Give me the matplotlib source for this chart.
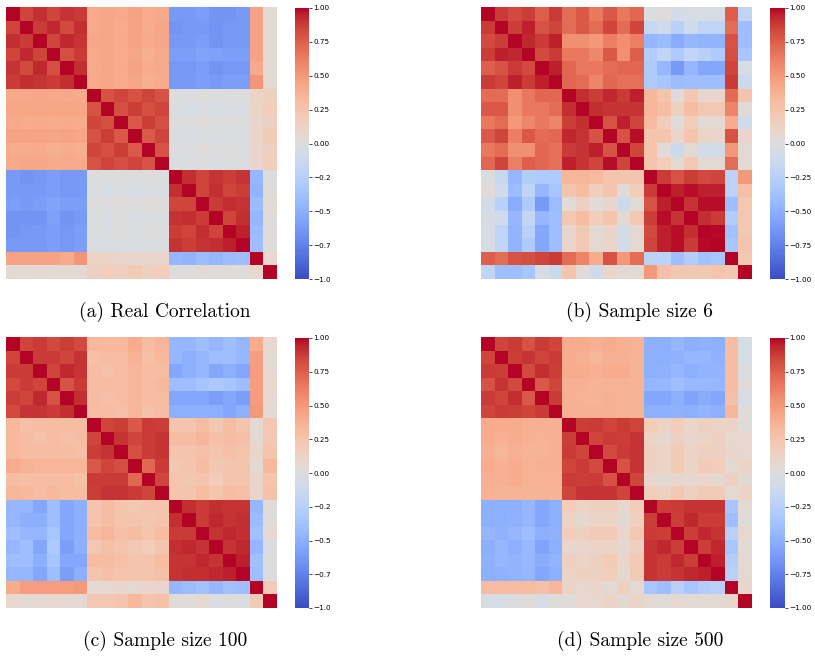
import numpy as np
import matplotlib
matplotlib.use('Agg')
import matplotlib.pyplot as plt
import matplotlib.transforms as mtransforms
import seaborn as sns

# upper triangle of each correlation matrix, row i holds columns i+1..19
real_rows = [
    [0.85, 0.92, 0.85, 0.90, 0.88, 0.42, 0.43, 0.42, 0.45, 0.40, 0.42, -0.62, -0.62, -0.60, -0.65, -0.65, -0.62, 0.45, 0.05],
    [0.88, 0.93, 0.83, 0.92, 0.42, 0.43, 0.40, 0.45, 0.40, 0.43, -0.65, -0.63, -0.62, -0.65, -0.63, -0.63, 0.45, 0.05],
    [0.85, 0.93, 0.90, 0.43, 0.44, 0.41, 0.45, 0.41, 0.43, -0.63, -0.62, -0.60, -0.65, -0.62, -0.63, 0.45, 0.06],
    [0.82, 0.88, 0.42, 0.43, 0.40, 0.44, 0.39, 0.42, -0.60, -0.60, -0.57, -0.58, -0.60, -0.60, 0.45, 0.05],
    [0.92, 0.42, 0.44, 0.41, 0.45, 0.40, 0.42, -0.63, -0.63, -0.60, -0.65, -0.63, -0.63, 0.42, 0.05],
    [0.42, 0.43, 0.40, 0.44, 0.39, 0.41, -0.62, -0.62, -0.60, -0.62, -0.60, -0.60, 0.52, 0.05],
    [0.80, 0.85, 0.80, 0.85, 0.80, 0.00, -0.02, 0.01, -0.01, 0.00, -0.02, 0.12, 0.15],
    [0.82, 0.87, 0.82, 0.85, -0.02, -0.05, -0.02, -0.04, -0.02, -0.04, 0.12, 0.18],
    [0.78, 0.87, 0.82, 0.00, -0.01, 0.02, 0.00, 0.01, -0.01, 0.10, 0.15],
    [0.77, 0.85, -0.02, -0.04, -0.01, -0.03, -0.02, -0.03, 0.10, 0.20],
    [0.80, 0.00, -0.02, 0.02, -0.01, 0.00, -0.01, 0.10, 0.15],
    [-0.01, -0.03, 0.00, -0.02, -0.01, -0.02, 0.10, 0.18],
    [0.92, 0.85, 0.90, 0.87, 0.90, -0.45, 0.00],
    [0.85, 0.92, 0.85, 0.87, -0.47, 0.02],
    [0.88, 0.92, 0.90, -0.42, 0.05],
    [0.85, 0.92, -0.45, 0.02],
    [0.95, -0.42, 0.03],
    [-0.40, 0.02],
    [0.08],
]

n6_rows = [
    [0.88, 0.83, 0.87, 0.75, 0.88, 0.70, 0.78, 0.65, 0.78, 0.65, 0.72, -0.02, 0.03, -0.08, -0.05, -0.05, -0.05, 0.75, -0.20],
    [0.87, 0.95, 0.80, 0.85, 0.70, 0.78, 0.70, 0.85, 0.70, 0.85, -0.15, -0.10, -0.25, -0.10, -0.20, -0.20, 0.70, -0.40],
    [0.93, 0.88, 0.95, 0.55, 0.55, 0.50, 0.62, 0.55, 0.62, -0.45, -0.42, -0.52, -0.45, -0.47, -0.47, 0.80, -0.40],
    [0.83, 0.88, 0.65, 0.65, 0.58, 0.78, 0.55, 0.75, -0.28, -0.20, -0.30, -0.18, -0.25, -0.30, 0.82, -0.35],
    [0.95, 0.72, 0.65, 0.65, 0.70, 0.72, 0.72, -0.30, -0.45, -0.62, -0.45, -0.55, -0.55, 0.85, -0.05],
    [0.72, 0.70, 0.60, 0.72, 0.68, 0.68, -0.30, -0.35, -0.42, -0.40, -0.40, -0.40, 0.88, -0.12],
    [0.92, 0.87, 0.93, 0.88, 0.95, 0.35, 0.25, 0.03, 0.22, 0.10, 0.10, 0.70, 0.25],
    [0.92, 0.90, 0.90, 0.90, 0.35, 0.30, 0.15, 0.30, 0.22, 0.22, 0.60, 0.03],
    [0.80, 0.95, 0.85, 0.32, 0.18, 0.03, 0.18, 0.05, 0.05, 0.40, -0.10],
    [0.80, 0.98, 0.25, 0.25, 0.10, 0.25, 0.12, 0.10, 0.80, 0.10],
    [0.85, 0.25, 0.03, -0.12, 0.05, -0.08, -0.08, 0.50, 0.05],
    [0.25, 0.18, 0.05, 0.22, 0.05, 0.05, 0.70, 0.05],
    [0.88, 0.80, 0.87, 0.83, 0.85, -0.22, 0.50],
    [0.95, 0.98, 0.95, 0.95, -0.22, 0.28],
    [0.90, 0.98, 0.98, -0.40, 0.22],
    [0.92, 0.88, -0.28, 0.22],
    [0.99, -0.38, 0.22],
    [-0.35, 0.25],
    [0.22],
]

n100_rows = [
    [0.85, 0.88, 0.83, 0.87, 0.83, 0.33, 0.33, 0.33, 0.40, 0.30, 0.35, -0.45, -0.45, -0.40, -0.45, -0.40, -0.45, 0.40, 0.08],
    [0.88, 0.88, 0.85, 0.90, 0.28, 0.30, 0.30, 0.37, 0.28, 0.33, -0.45, -0.50, -0.45, -0.40, -0.40, -0.45, 0.48, 0.05],
    [0.85, 0.93, 0.90, 0.30, 0.27, 0.30, 0.35, 0.30, 0.30, -0.55, -0.50, -0.45, -0.55, -0.50, -0.55, 0.48, 0.07],
    [0.80, 0.88, 0.30, 0.30, 0.30, 0.35, 0.30, 0.33, -0.40, -0.40, -0.35, -0.32, -0.35, -0.40, 0.48, 0.08],
    [0.92, 0.30, 0.28, 0.30, 0.35, 0.30, 0.30, -0.55, -0.55, -0.55, -0.60, -0.55, -0.60, 0.48, 0.07],
    [0.30, 0.30, 0.28, 0.35, 0.27, 0.30, -0.50, -0.50, -0.50, -0.50, -0.55, -0.50, 0.50, 0.05],
    [0.85, 0.87, 0.78, 0.88, 0.87, 0.25, 0.25, 0.30, 0.22, 0.30, 0.25, 0.05, 0.22],
    [0.90, 0.85, 0.88, 0.90, 0.30, 0.30, 0.35, 0.28, 0.30, 0.28, 0.07, 0.22],
    [0.82, 0.88, 0.90, 0.25, 0.25, 0.28, 0.25, 0.28, 0.25, 0.10, 0.25],
    [0.72, 0.88, 0.22, 0.25, 0.30, 0.22, 0.25, 0.25, 0.06, 0.33],
    [0.85, 0.25, 0.22, 0.25, 0.18, 0.25, 0.25, 0.10, 0.25],
    [0.25, 0.25, 0.30, 0.25, 0.30, 0.28, 0.10, 0.27],
    [0.92, 0.88, 0.92, 0.90, 0.90, -0.45, 0.02],
    [0.88, 0.93, 0.90, 0.92, -0.42, 0.02],
    [0.90, 0.93, 0.92, -0.38, 0.07],
    [0.90, 0.93, -0.45, -0.02],
    [0.95, -0.38, 0.00],
    [-0.40, -0.02],
    [0.20],
]

n500_rows = [
    [0.85, 0.88, 0.80, 0.88, 0.85, 0.40, 0.40, 0.38, 0.40, 0.38, 0.37, -0.50, -0.50, -0.45, -0.50, -0.48, -0.50, 0.30, -0.05],
    [0.87, 0.90, 0.85, 0.88, 0.40, 0.38, 0.35, 0.38, 0.38, 0.36, -0.50, -0.50, -0.48, -0.45, -0.45, -0.48, 0.30, -0.05],
    [0.83, 0.92, 0.87, 0.40, 0.40, 0.38, 0.40, 0.40, 0.36, -0.50, -0.48, -0.45, -0.50, -0.47, -0.47, 0.30, -0.02],
    [0.78, 0.85, 0.38, 0.38, 0.36, 0.37, 0.37, 0.36, -0.45, -0.45, -0.40, -0.43, -0.43, -0.45, 0.30, 0.03],
    [0.88, 0.38, 0.37, 0.36, 0.38, 0.37, 0.36, -0.55, -0.55, -0.50, -0.57, -0.52, -0.55, 0.28, -0.05],
    [0.38, 0.38, 0.38, 0.38, 0.37, 0.36, -0.50, -0.50, -0.48, -0.50, -0.47, -0.50, 0.35, 0.02],
    [0.87, 0.88, 0.85, 0.88, 0.85, 0.18, 0.12, 0.18, 0.10, 0.15, 0.12, 0.12, 0.02],
    [0.85, 0.88, 0.87, 0.90, 0.12, 0.07, 0.15, 0.10, 0.12, 0.15, 0.08, 0.08],
    [0.83, 0.88, 0.90, 0.15, 0.12, 0.20, 0.12, 0.15, 0.15, 0.10, 0.08],
    [0.80, 0.90, 0.15, 0.12, 0.20, 0.12, 0.20, 0.18, 0.05, 0.12],
    [0.85, 0.08, 0.05, 0.10, 0.07, 0.10, 0.07, 0.15, 0.05],
    [0.18, 0.15, 0.22, 0.15, 0.20, 0.20, 0.05, 0.12],
    [0.87, 0.88, 0.90, 0.90, 0.90, -0.35, 0.05],
    [0.87, 0.93, 0.88, 0.88, -0.40, 0.02],
    [0.87, 0.93, 0.90, -0.25, 0.08],
    [0.87, 0.93, -0.35, 0.05],
    [0.95, -0.28, 0.06],
    [-0.25, 0.05],
    [0.10],
]

captions = ['(a) Real Correlation', '(b) Sample size 6',
            '(c) Sample size 100', '(d) Sample size 500']
cbar_ticks = [-1.0, -0.75, -0.5, -0.25, 0.0, 0.25, 0.5, 0.75, 1.0]


def build(rows):
    n = len(rows) + 1
    m = np.eye(n)
    for i, r in enumerate(rows):
        m[i, i + 1:] = r
        m[i + 1:, i] = r
    return m


W, H = 815, 660
fig = plt.figure(figsize=(W / 100, H / 100), dpi=100)


def px(x0, y0, x1, y1):
    # pixel box (top-left origin) -> figure fraction rect
    return [x0 / W, 1 - y1 / H, (x1 - x0) / W, (y1 - y0) / H]


# heatmap box, colorbar box, caption centre, label clip edge
panels = [
    (real_rows, (6, 7, 277, 279), (295, 8, 309, 279), (165, 312), 330),
    (n6_rows, (481, 7, 752, 279), (770, 8, 785, 279), (640, 312), None),
    (n100_rows, (6, 337, 277, 608), (295, 338, 309, 608), (165, 641), 330),
    (n500_rows, (481, 337, 752, 608), (770, 338, 785, 608), (640, 641), None),
]

for (rows, hbox, cbox, cpos, clip_x), cap in zip(panels, captions):
    ax = fig.add_axes(px(*hbox))
    cax = fig.add_axes(px(*cbox))
    sns.heatmap(build(rows), cmap='coolwarm', vmin=-1, vmax=1,
                xticklabels=False, yticklabels=False, ax=ax, cbar_ax=cax,
                cbar_kws={'ticks': cbar_ticks})
    cax.tick_params(labelsize=5.2, length=2, width=0.5, pad=1)
    if clip_x is not None:
        clip = mtransforms.TransformedBbox(
            mtransforms.Bbox.from_extents(0, 0, clip_x / W, 1), fig.transFigure)
        for t in cax.get_yticklabels():
            t.set_clip_on(True)
            t.set_clip_box(clip)
    fig.text(cpos[0] / W, 1 - cpos[1] / H, cap, ha='center', va='center',
             fontsize=14, family='cmr10')

fig.savefig('out.png', dpi=100)
